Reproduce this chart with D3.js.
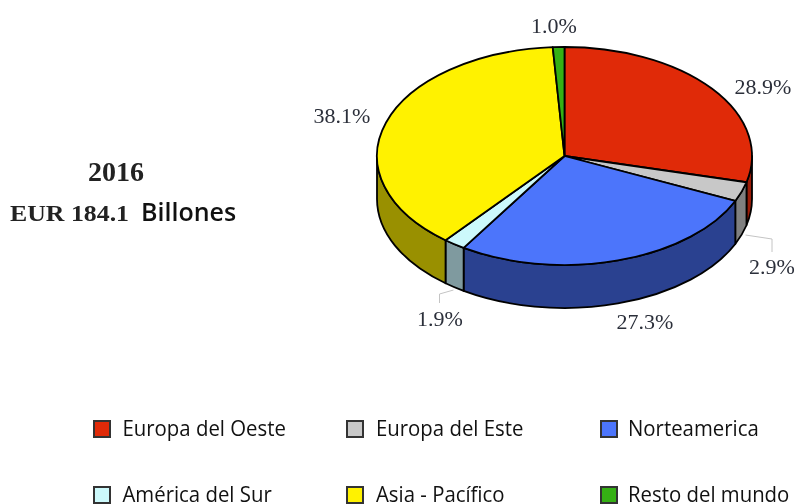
<!DOCTYPE html>
<html>
<head>
<meta charset="utf-8">
<script src="https://cdn.jsdelivr.net/npm/d3@7/dist/d3.min.js"></script>
<style>
  html, body { margin: 0; padding: 0; background: #fff; }
  svg { display: block; filter: blur(0.4px); }
</style>
</head>
<body>
<div id="chart"></div>
<script>
// data
var categories = ['Europa del Oeste', 'Europa del Este', 'Norteamerica', 'América del Sur', 'Asia - Pacífico', 'Resto del mundo'];
var shares = [28.9, 2.9, 27.3, 1.9, 38.1, 1.0];
var topColors = ['#e02a08', '#c8c8c8', '#4c75fb', '#ccf9fb', '#fff200', '#35b014'];
var wallColors = ['#9c1c08', '#808080', '#2a4190', '#7f9a9f', '#999000', '#1f7a0c'];

// layout
var width = 796, height = 504;
var cx = 564.5, cy = 156, rx = 187.5, ry = 109, depth = 43;
var labelDx = [198.5, 207.5, 80.5, -124.5, -222.5, -10.5];
var labelDy = [-70, 110, 165.5, 162.5, -41, -131];
var legendCols = [93, 346, 600];
var legendRows = [429, 495];
var legendGap = [29.5, 30, 28];

var svg = d3.select('#chart').append('svg')
  .attr('width', width)
  .attr('height', height);

var slices = d3.pie().sort(null).value(function (d) { return d; })(shares);
var halfPi = Math.PI / 2;

function px(a) { return cx + rx * Math.sin(a); }
function py(a) { return cy - ry * Math.cos(a); }

// side wall between two angles, only the front half of the disc shows
function wallPath(a0, a1) {
  var s = Math.max(a0, halfPi), e = Math.min(a1, 3 * halfPi);
  if (e <= s) return null;
  return 'M' + px(s) + ',' + py(s) +
    'A' + rx + ',' + ry + ' 0 0 1 ' + px(e) + ',' + py(e) +
    'L' + px(e) + ',' + (py(e) + depth) +
    'A' + rx + ',' + ry + ' 0 0 0 ' + px(s) + ',' + (py(s) + depth) + 'Z';
}

svg.append('g').selectAll('path')
  .data(slices.filter(function (d) { return wallPath(d.startAngle, d.endAngle); }))
  .enter().append('path')
  .attr('d', function (d) { return wallPath(d.startAngle, d.endAngle); })
  .attr('fill', function (d) { return wallColors[d.index]; })
  .attr('stroke', '#000')
  .attr('stroke-width', 1.8)
  .attr('stroke-linejoin', 'round');

// top face: a circular arc squashed to the ellipse
var arc = d3.arc().innerRadius(0).outerRadius(rx);
svg.append('g')
  .attr('transform', 'translate(' + cx + ',' + cy + ') scale(1,' + ry / rx + ')')
  .selectAll('path')
  .data(slices)
  .enter().append('path')
  .attr('d', arc)
  .attr('fill', function (d) { return topColors[d.index]; })
  .attr('stroke', '#000')
  .attr('stroke-width', 1.8)
  .attr('stroke-linejoin', 'round')
  .attr('vector-effect', 'non-scaling-stroke');

// leader lines of the two small slices
var leader = d3.line();
svg.append('path')
  .attr('d', leader([[cx + 181, cy + 79], [cx + 207.5, cy + 83], [cx + 207.5, cy + 96]]))
  .attr('fill', 'none').attr('stroke', '#c4c4c4').attr('stroke-width', 1);
svg.append('path')
  .attr('d', leader([[cx - 111, cy + 134], [cx - 125, cy + 138], [cx - 125, cy + 147]]))
  .attr('fill', 'none').attr('stroke', '#c4c4c4').attr('stroke-width', 1);

// percent labels
svg.append('g').selectAll('text')
  .data(shares)
  .enter().append('text')
  .attr('x', function (d, i) { return cx + labelDx[i]; })
  .attr('y', function (d, i) { return cy + labelDy[i]; })
  .attr('text-anchor', 'middle')
  .attr('dominant-baseline', 'central')
  .style('font-family', '"Liberation Serif", serif')
  .style('font-size', '22px')
  .attr('fill', '#2b2f3a')
  .text(function (d) { return d.toFixed(1) + '%'; });

// title block
svg.append('text')
  .attr('x', 116).attr('y', 181)
  .attr('text-anchor', 'middle')
  .style('font-family', '"Liberation Serif", serif')
  .style('font-size', '28px')
  .style('font-weight', 'bold')
  .attr('fill', '#222')
  .text('2016');
svg.append('text')
  .attr('x', 10).attr('y', 221)
  .attr('textLength', 119)
  .attr('lengthAdjust', 'spacingAndGlyphs')
  .style('font-family', '"Liberation Serif", serif')
  .style('font-size', '24px')
  .style('font-weight', 'bold')
  .attr('fill', '#222')
  .text('EUR 184.1');
svg.append('text')
  .attr('x', 141).attr('y', 221)
  .style('font-family', '"Open Sans", sans-serif')
  .style('font-size', '25px')
  .style('font-weight', 600)
  .attr('fill', '#111')
  .text('Billones');

// legend, two rows of three
var legend = svg.append('g').selectAll('g')
  .data(categories)
  .enter().append('g')
  .attr('transform', function (d, i) {
    return 'translate(' + legendCols[i % 3] + ',' + legendRows[Math.floor(i / 3)] + ')';
  });
legend.append('rect')
  .attr('x', 1).attr('y', -8)
  .attr('width', 16).attr('height', 16)
  .attr('fill', function (d, i) { return topColors[i]; })
  .attr('stroke', '#333')
  .attr('stroke-width', 2);
// the reference font is narrower than Open Sans, so squeeze it a bit
legend.append('text')
  .attr('transform', function (d, i) { return 'translate(' + legendGap[i % 3] + ',7) scale(0.926,1)'; })
  .style('font-family', '"Open Sans", sans-serif')
  .style('font-size', '22px')
  .attr('fill', '#111')
  .text(function (d) { return d; });
</script>
</body>
</html>
